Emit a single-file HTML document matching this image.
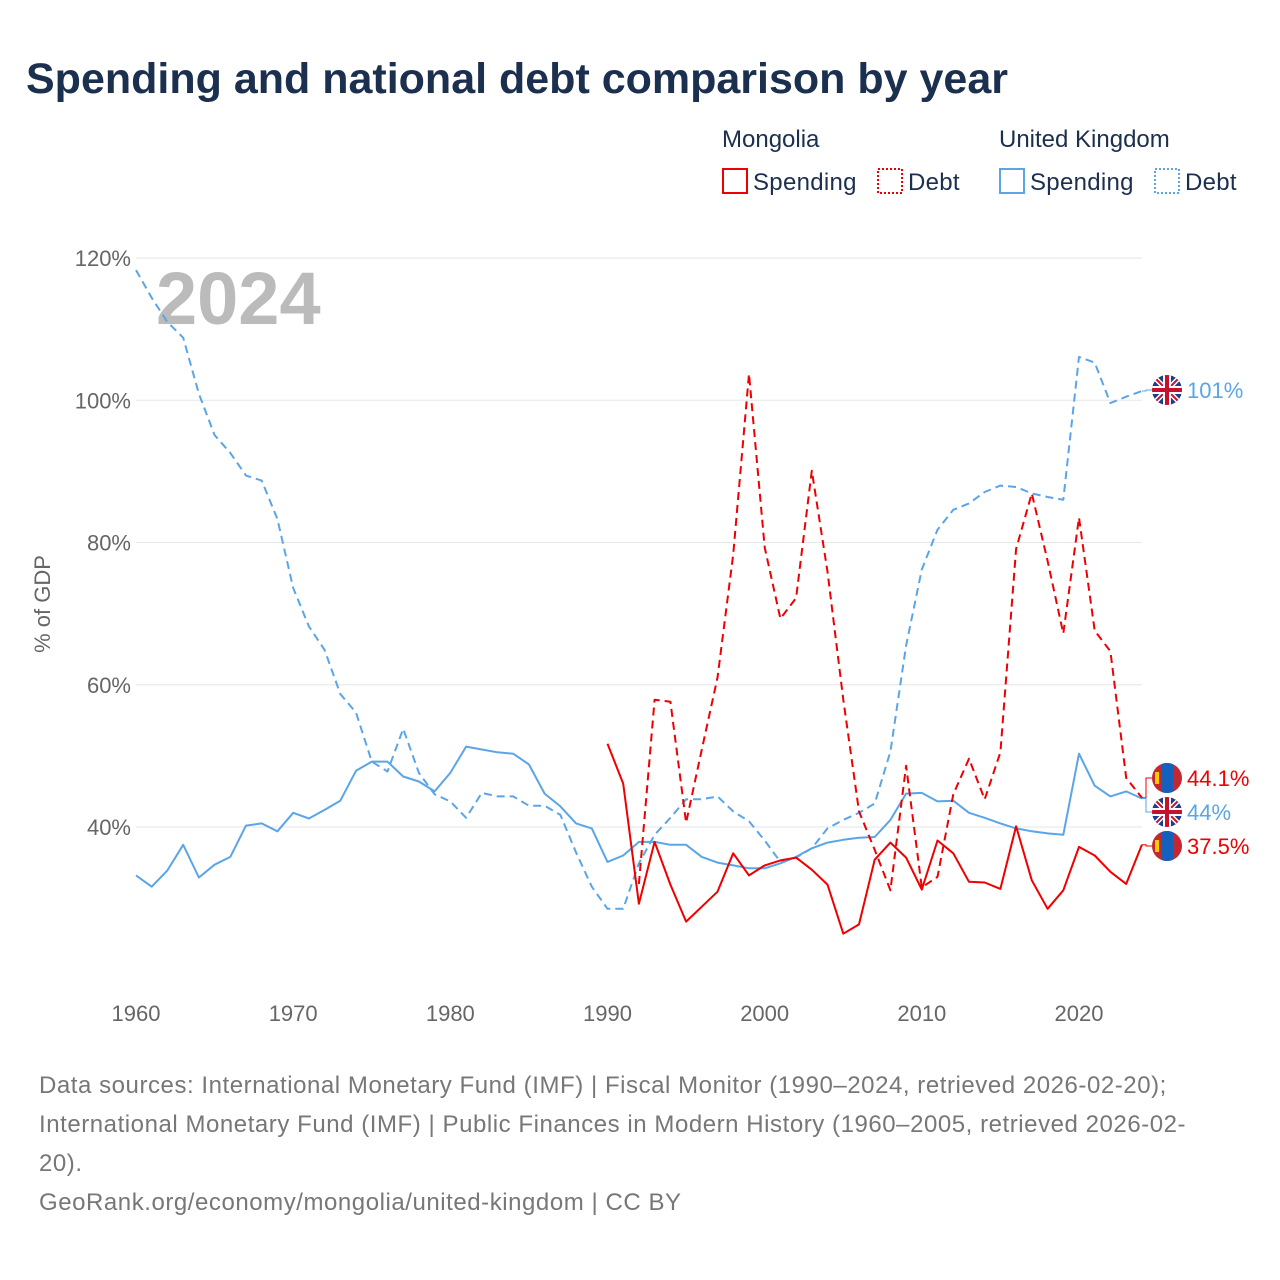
<!DOCTYPE html>
<html><head><meta charset="utf-8">
<style>
body{margin:0;background:#fff;font-family:"Liberation Sans",sans-serif;}
#wrap{position:relative;width:1280px;height:1280px;overflow:hidden;}
svg text{font-family:"Liberation Sans",sans-serif;}
</style></head>
<body>
<div id="wrap">
<svg id="chart" width="1280" height="1280"></svg>
</div>
<script>
const years=[];for(let y=1960;y<=2024;y++)years.push(y);
const ukSpending=[33.2,31.6,33.9,37.5,32.9,34.7,35.8,40.2,40.5,39.4,42.0,41.2,42.4,43.7,47.9,49.2,49.2,47.1,46.4,45.0,47.6,51.3,50.9,50.5,50.3,48.8,44.7,42.9,40.5,39.8,35.1,36.0,37.9,37.9,37.5,37.5,35.8,35.0,34.6,34.2,34.2,34.9,35.8,37.0,37.8,38.2,38.5,38.6,41.0,44.7,44.8,43.6,43.7,42.0,41.3,40.5,39.8,39.4,39.1,38.9,50.3,45.8,44.3,45.0,44.0];
const ukDebt=[118.3,114.4,111.0,108.8,100.9,95.1,92.6,89.4,88.7,83.3,73.6,68.2,64.9,58.7,56.1,49.2,47.8,53.8,47.6,44.6,43.6,41.3,44.8,44.3,44.3,43.0,43.0,41.7,36.4,31.6,28.5,28.5,34.9,38.9,41.3,43.9,43.9,44.3,42.2,40.8,38.1,35.1,35.7,37.0,39.8,41.0,42.0,43.3,50.6,65.5,76.2,81.8,84.6,85.5,87.1,88.0,87.8,86.9,86.4,86.0,106.1,105.3,99.6,100.5,101.3];
const mnYears=[];for(let y=1990;y<=2024;y++)mnYears.push(y);
const mnSpending=[51.7,46.1,29.2,37.9,31.9,26.7,28.8,30.9,36.3,33.2,34.6,35.3,35.7,34.0,31.9,25.0,26.3,35.4,37.8,35.7,31.2,38.1,36.3,32.3,32.2,31.3,40.1,32.5,28.5,31.1,37.2,36.0,33.7,32.0,37.5];
const mnDebtYears=[];for(let y=1992;y<=2024;y++)mnDebtYears.push(y);
const mnDebt=[32.0,57.9,57.6,40.6,50.9,61.0,78.3,103.7,79.3,69.3,72.2,90.1,75.9,57.9,42.2,36.8,31.1,48.6,31.5,33.0,44.6,49.6,43.9,50.5,79.1,86.9,77.4,67.2,83.5,67.6,64.7,46.9,44.1];
const yTicks=[40,60,80,100,120];
const xTicks=[1960,1970,1980,1990,2000,2010,2020];

const NS="http://www.w3.org/2000/svg";
const svg=document.getElementById('chart');
const X=y=>136+(y-1960)*(1079-136)/60;
const Y=v=>827-(v-40)*(827-258)/80;
function el(tag,attrs,parent){const e=document.createElementNS(NS,tag);for(const k in attrs)e.setAttribute(k,attrs[k]);(parent||svg).appendChild(e);return e;}
function txt(s,attrs){const t=el('text',attrs);t.textContent=s;return t;}

let t;
t=txt('Spending and national debt comparison by year',{x:26,y:93,'font-size':43,'font-weight':'bold',fill:'#1b2f4f'});


t=txt('Mongolia',{x:722,y:147,'font-size':24,fill:'#1b2f4f'});
t=txt('United Kingdom',{x:999,y:147,'font-size':24,fill:'#1b2f4f'});
const legendItems=[[722,'#e00','none','Spending','legend-mongolia-spending'],[877,'#e00','2,2','Debt','legend-mongolia-debt'],[999,'#5aa5e8','none','Spending','legend-uk-spending'],[1154,'#5aa5e8','2,2','Debt','legend-uk-debt']];
legendItems.forEach(([x,c,d,l,n])=>{
 const g=el('g',{});
 el('rect',{x:x+1,y:169,width:24,height:24,fill:'none',stroke:c,'stroke-width':2,'stroke-dasharray':d},g);
 const tt=el('text',{x:x+31,y:190,'font-size':24,fill:'#1b2f4f','letter-spacing':0.3},g);tt.textContent=l;
});

yTicks.forEach(v=>{
 const l=el('line',{x1:136,x2:1142,y1:Y(v),y2:Y(v),stroke:'#e6e6e6','stroke-width':1});
 
 const tt=txt(v+'%',{x:131,y:Y(v)+8,'font-size':22,fill:'#666','text-anchor':'end'});
 
});
xTicks.forEach(y=>{
 const tt=txt(String(y),{x:X(y),y:1021,'font-size':22,fill:'#666','text-anchor':'middle'});
 
});
t=txt('% of GDP',{x:0,y:0,'font-size':22,fill:'#666','text-anchor':'middle',transform:'translate(50,604) rotate(-90)'});

t=txt('2024',{x:156,y:324,'font-size':74,'font-weight':'bold',fill:'#bbb'});


function line(xs,vs,c,dash,name){
 const d=xs.map((x,i)=>(i?'L':'M')+X(x).toFixed(1)+','+Y(vs[i]).toFixed(1)).join(' ');
 const p=el('path',{d:d,fill:'none',stroke:c,'stroke-width':2,'stroke-dasharray':dash,'stroke-linejoin':'round'});
 
}
line(years,ukDebt,'#5aa5e8','8,5','series-uk-debt');
line(years,ukSpending,'#5aa5e8','none','series-uk-spending');
line(mnDebtYears,mnDebt,'#e00','8,5','series-mongolia-debt');
line(mnYears,mnSpending,'#e00','none','series-mongolia-spending');

function ukFlag(cx,cy,name){
 const g=el('g',{});
 const id='c'+name;const cp=el('clipPath',{id:id},g);el('circle',{cx:cx,cy:cy,r:15},cp);
 const gg=el('g',{'clip-path':'url(#'+id+')'},g);
 el('rect',{x:cx-16,y:cy-16,width:32,height:32,fill:'#1f3c8a'},gg);
 el('path',{d:`M${cx-16},${cy-16}L${cx+16},${cy+16}M${cx+16},${cy-16}L${cx-16},${cy+16}`,stroke:'#fff','stroke-width':5},gg);
 el('path',{d:`M${cx-16},${cy-16}L${cx+16},${cy+16}M${cx+16},${cy-16}L${cx-16},${cy+16}`,stroke:'#c8102e','stroke-width':2},gg);
 el('path',{d:`M${cx},${cy-16}V${cy+16}M${cx-16},${cy}H${cx+16}`,stroke:'#fff','stroke-width':8},gg);
 el('path',{d:`M${cx},${cy-16}V${cy+16}M${cx-16},${cy}H${cx+16}`,stroke:'#c8102e','stroke-width':4},gg);
}
function mnFlag(cx,cy,name){
 const g=el('g',{});
 const id='c'+name;const cp=el('clipPath',{id:id},g);el('circle',{cx:cx,cy:cy,r:15},cp);
 const gg=el('g',{'clip-path':'url(#'+id+')'},g);
 el('rect',{x:cx-16,y:cy-16,width:32,height:32,fill:'#c4272f'},gg);
 el('rect',{x:cx-5,y:cy-16,width:11,height:32,fill:'#1560bd'},gg);
 el('rect',{x:cx-12,y:cy-6,width:4,height:12,fill:'#f9cf02'},gg);
}
const endLabels=[[ukDebt[ukDebt.length-1],390,'#5aa5e8','101%','uk'],[mnDebt[mnDebt.length-1],778,'#e00','44.1%','mn'],[ukSpending[ukSpending.length-1],812,'#5aa5e8','44%','uk'],[mnSpending[mnSpending.length-1],846,'#e00','37.5%','mn']];
endLabels.forEach(([v,ly,c,l,f],i)=>{
 el('path',{d:`M${X(2024)},${Y(v)} H1146 V${ly} H1152`,fill:'none',stroke:c,'stroke-width':1});
 if(f==='uk')ukFlag(1167,ly,'end-flag-'+i);else mnFlag(1167,ly,'end-flag-'+i);
 const tt=txt(l,{x:1187,y:ly+8,'font-size':22,fill:c});
 
});

const src=['Data sources: International Monetary Fund (IMF) | Fiscal Monitor (1990–2024, retrieved 2026-02-20);','International Monetary Fund (IMF) | Public Finances in Modern History (1960–2005, retrieved 2026-02-','20).','GeoRank.org/economy/mongolia/united-kingdom | CC BY'];
src.forEach((s,i)=>{const tt=txt(s,{x:39,y:1093+i*39,'font-size':24,fill:'#777','letter-spacing':0.55});
 });
</script>
</body></html>
